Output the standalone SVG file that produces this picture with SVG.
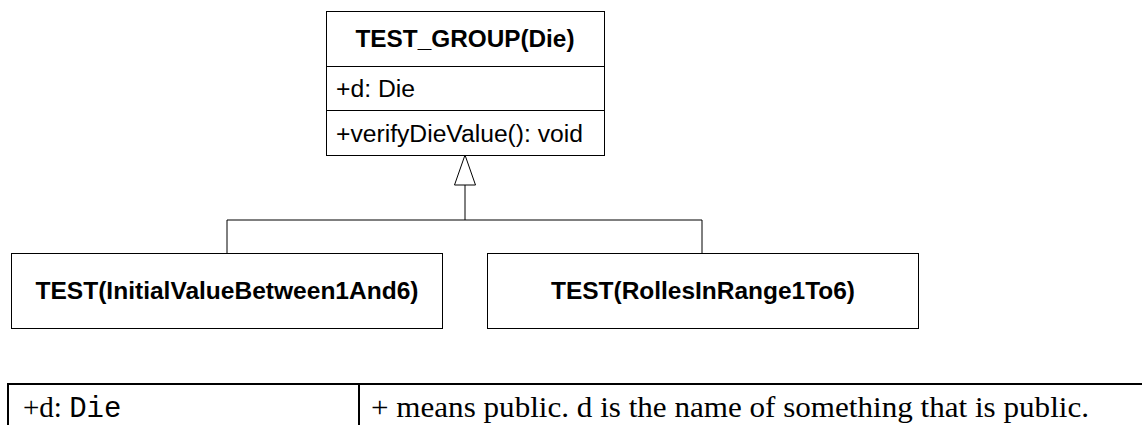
<svg xmlns="http://www.w3.org/2000/svg" width="1142" height="425" viewBox="0 0 1142 425">
<style>
.box{fill:#fff;stroke:#000;stroke-width:1}
.ln{fill:none;stroke:#000;stroke-width:1}
.t{font-family:"Liberation Sans",Arial,sans-serif;fill:#000}
.b{font-weight:bold;font-size:24px;text-anchor:middle}
.a{font-size:23.5px}
.serif{font-family:"Liberation Serif","Times New Roman",serif;font-size:29px;fill:#000}
.mono{font-family:"Liberation Mono","Courier New",monospace}
.tb{stroke:#000;stroke-width:2}
</style>
<rect width="1142" height="425" fill="#fff"/>
<g id="connectors">
<polyline class="ln" points="227,253 227,220 702,220 702,253"/>
<line class="ln" x1="465" y1="220" x2="465" y2="185"/>
<polygon class="box" points="465,155 454.5,185 475.5,185"/>
</g>
<g id="test_group">
<rect class="box" x="326.5" y="11.5" width="278" height="144"/>
<line class="ln" x1="326.5" y1="66.5" x2="604.5" y2="66.5"/>
<line class="ln" x1="326.5" y1="110.5" x2="604.5" y2="110.5"/>
<text class="t b" x="465" y="47" textLength="219" lengthAdjust="spacingAndGlyphs">TEST_GROUP(Die)</text>
<text class="t a" x="336" y="97" textLength="79" lengthAdjust="spacingAndGlyphs">+d: Die</text>
<text class="t a" x="336" y="142" textLength="247" lengthAdjust="spacingAndGlyphs">+verifyDieValue(): void</text>
</g>
<g id="test1">
<rect class="box" x="11.5" y="253.5" width="431" height="75"/>
<text class="t b" x="227" y="299" textLength="383" lengthAdjust="spacingAndGlyphs">TEST(InitialValueBetween1And6)</text>
</g>
<g id="test2">
<rect class="box" x="487.5" y="253.5" width="431" height="75"/>
<text class="t b" x="703" y="299" textLength="304" lengthAdjust="spacingAndGlyphs">TEST(RollesInRange1To6)</text>
</g>
<g id="table">
<line class="tb" x1="7" y1="384" x2="1142" y2="384"/>
<line class="tb" x1="8" y1="383" x2="8" y2="425"/>
<line class="tb" x1="359" y1="383" x2="359" y2="425"/>
<text class="serif" x="23" y="417">+d: <tspan class="mono" font-size="29px">Die</tspan></text>
<text class="serif" x="371" y="417" textLength="718" lengthAdjust="spacingAndGlyphs">+ means public. d is the name of something that is public.</text>
</g>
</svg>
